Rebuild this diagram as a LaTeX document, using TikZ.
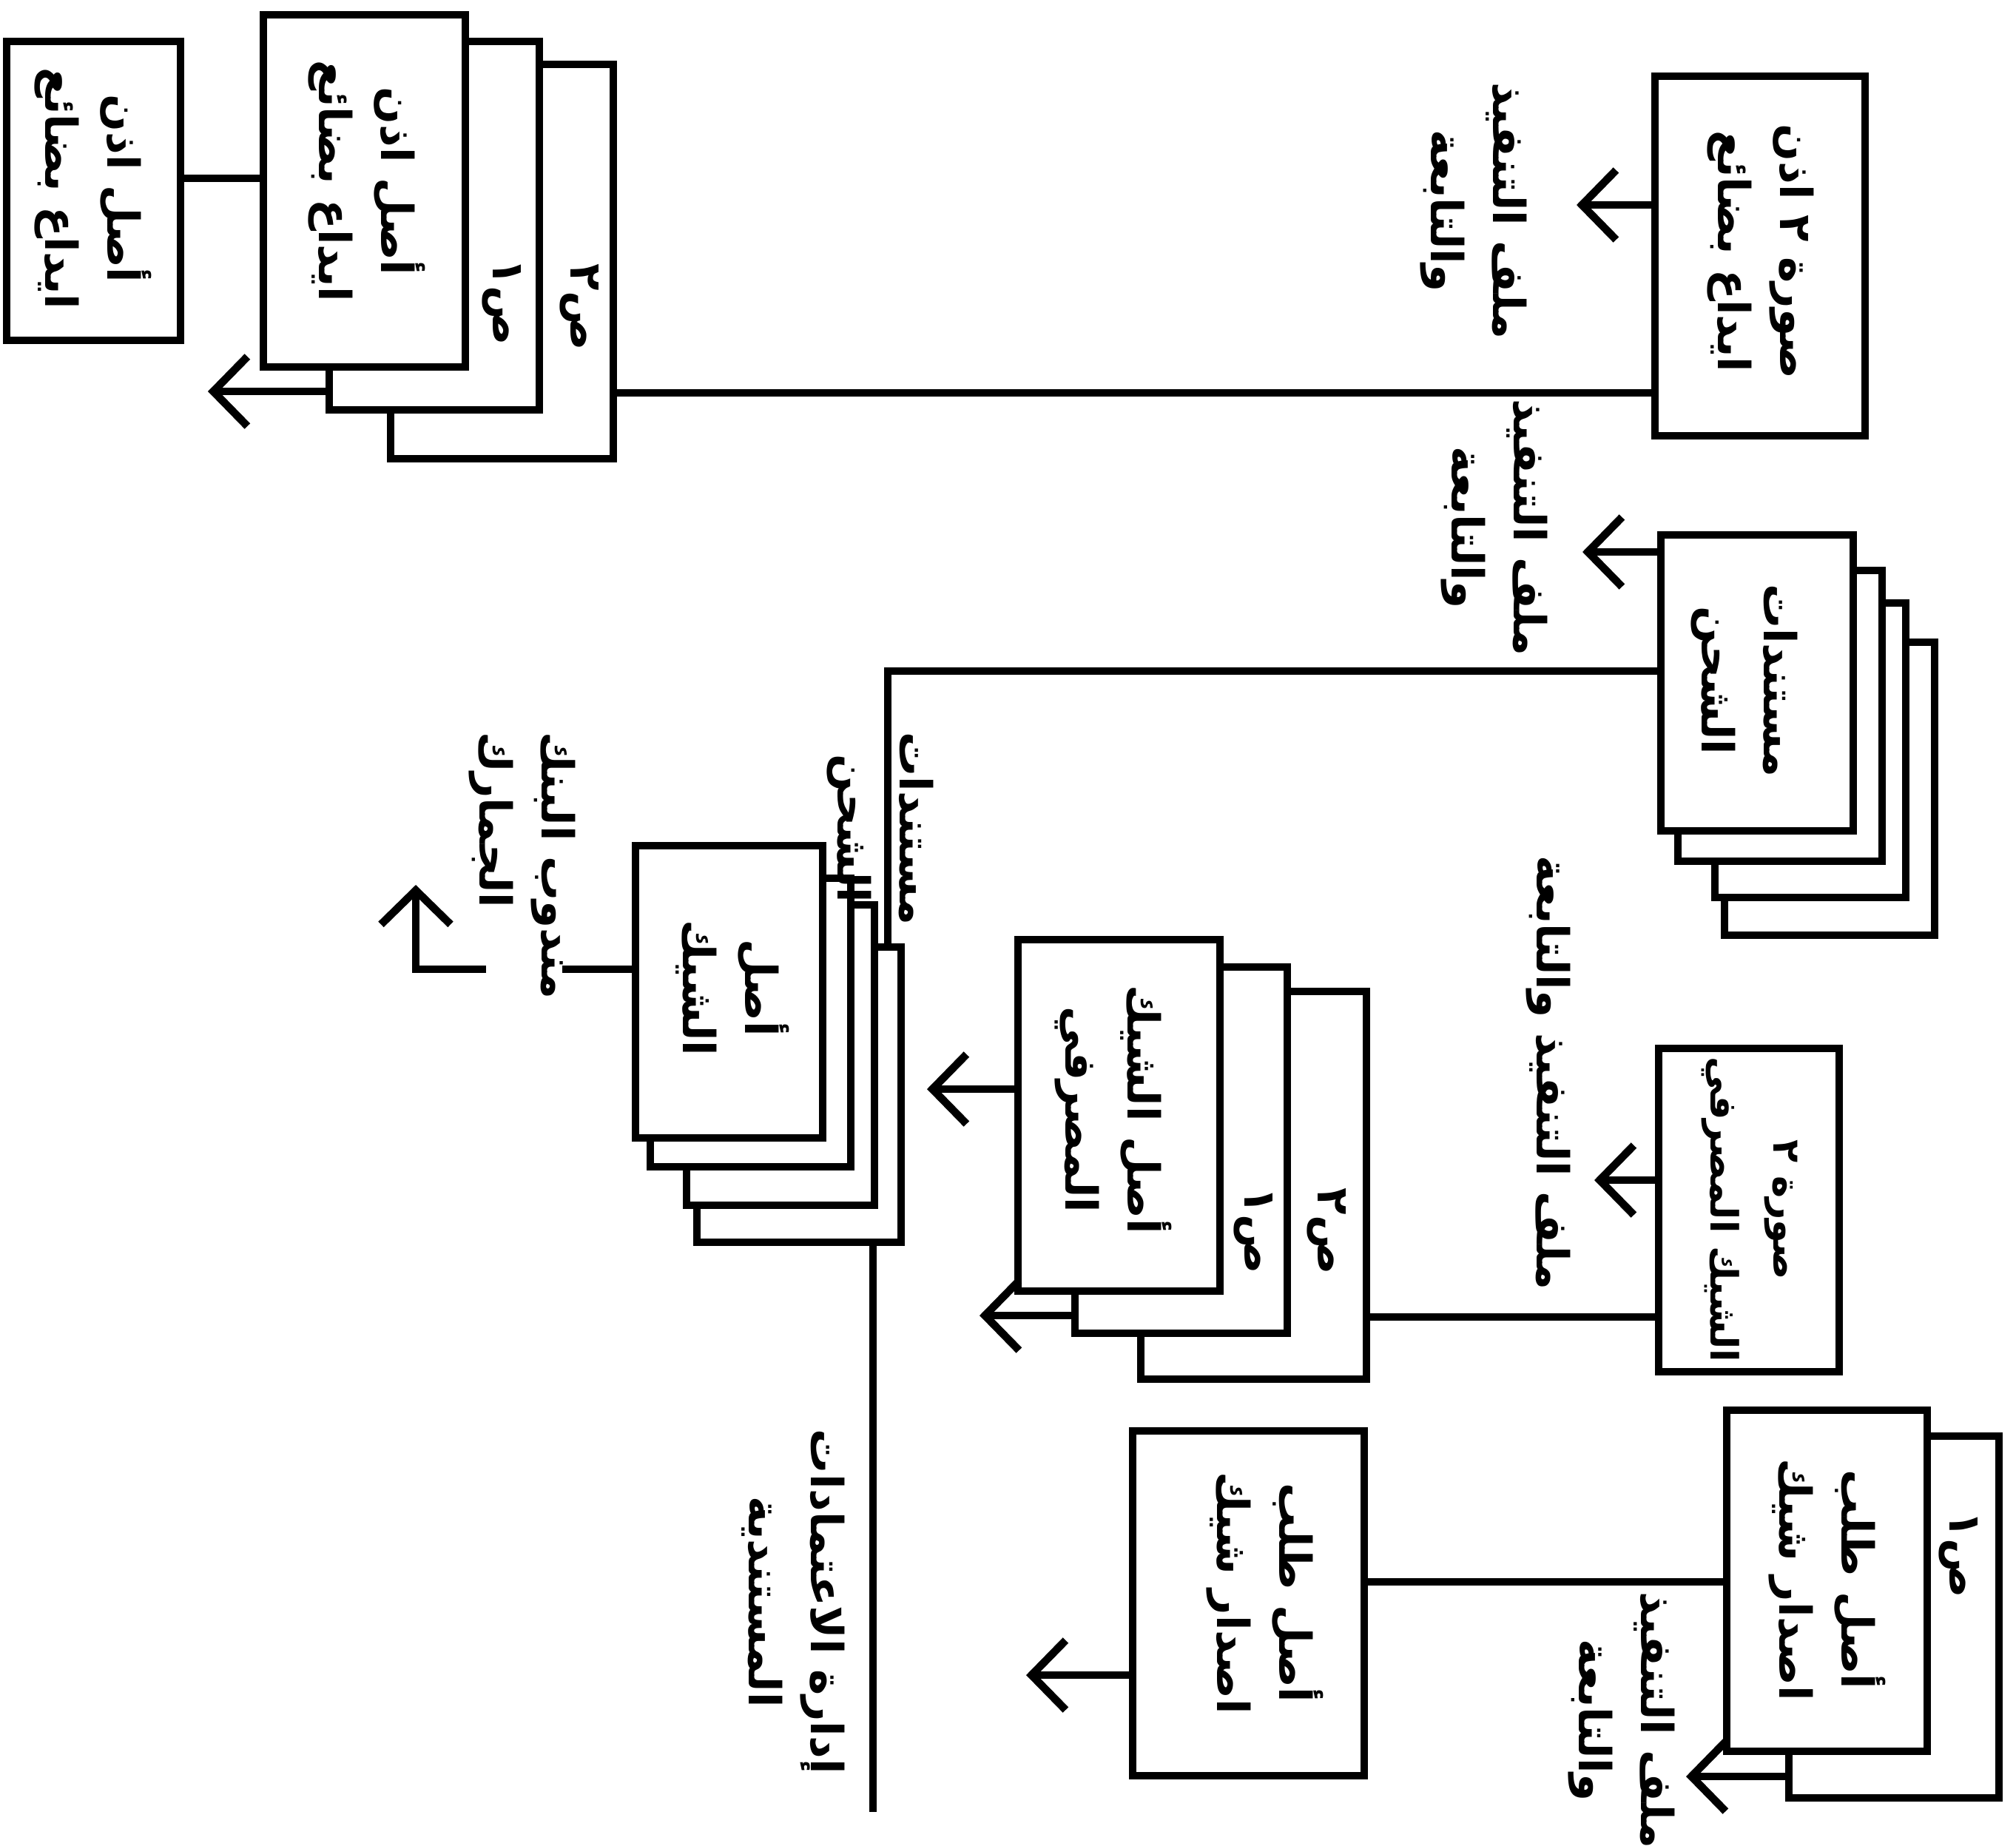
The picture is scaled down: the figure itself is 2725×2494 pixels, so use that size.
\documentclass[tikz,border=0pt]{standalone}
\usepackage{fontspec}
\newfontfamily\arabicfont[Script=Arabic]{DejaVu Sans}
\TeXXeTstate=1
\usetikzlibrary{fit,arrows.meta}
\newcommand{\artxt}[1]{\beginR #1\endR}
\begin{document}
\begin{tikzpicture}[x=0.01cm,y=-0.01cm,
  box/.style={draw, line width=3pt, fill=white, inner sep=0pt, outer sep=0pt},
  con/.style={line width=3pt},
  arr/.style={line width=3pt, -{Straight Barb[length=4.6mm,width=9.4mm]}},
  txt/.style={rotate=-90, font=\arabicfont\bfseries\fontsize{17}{24}\selectfont, align=center, inner sep=0pt},
  txtl/.style={txt, align=left},
  txts/.style={txt, font=\arabicfont\bfseries\fontsize{14.5}{24}\selectfont}]
\useasboundingbox (0,0) rectangle (2725,2494);

% ---- A and stack B
\node[box, fit={(9,56) (244,460)}] (A) {};
\node[box, fit={(528,87) (829,620)}] (B3) {};
\node[box, fit={(445,56) (729,554)}] (B2) {};
\node[box, fit={(356,20) (629,496)}] (B1) {};
\node[txt] (tA) at (126,255) {\artxt{أصل اذن}\\\artxt{ايداع بضائع}};
\node[txt] (tB1) at (496,245) {\artxt{أصل اذن}\\\artxt{ايداع بضائع}};
\node[txt] (tB2) at (678,408) {\artxt{ص١}};
\node[txt] (tB3) at (783,415) {\artxt{ص٢}};

% ---- C
\node[box, fit={(2237,103) (2521,589)}] (C) {};
\node[txt] (tC) at (2380,340) {\artxt{صورة ٢ اذن}\\\artxt{ايداع بضائع}};
\node[txt] (lC) at (1992,285) {\artxt{ملف التنفيذ}\\\artxt{والتابعة}};

% ---- stack D
\node[box, fit={(2331,868) (2615,1264)}] (D4) {};
\node[box, fit={(2318,815) (2576,1213)}] (D3) {};
\node[box, fit={(2268,771) (2544,1164)}] (D2) {};
\node[box, fit={(2245,723) (2505,1123)}] (D1) {};
\node[txt] (tD1) at (2358,920) {\artxt{مستندات}\\\artxt{الشحن}};
\node[txt] (lD) at (2020,713) {\artxt{ملف التنفيذ}\\\artxt{والتابعة}};

% ---- stack E
\node[box, fit={(942,1280) (1218,1679)}] (E4) {};
\node[box, fit={(928,1223) (1182,1629)}] (E3) {};
\node[box, fit={(879,1187) (1150,1577)}] (E2) {};
\node[box, fit={(859,1143) (1112,1538)}] (E1) {};
\node[txt] (tE1) at (990,1335) {\artxt{أصل}\\\artxt{الشيك}};
\node[txt] (lEdoc) at (1190,1120) {\artxt{مستندات}\\\artxt{الشحن}};
\node[txtl] (lMan) at (706,1170) {\artxt{مندوب البنك}\\\artxt{الجمارك}};
\node[txt] (lAdm) at (1072,2165) {\artxt{إدارة الاعتمادات}\\\artxt{المستندية}};

% ---- F
\node[box, fit={(2242,1417) (2486,1854)}] (F) {};
\node[txts] (tF) at (2365,1635) {\artxt{صورة ٢}\\\artxt{الشيك المصرفي}};
\node[txt] (lF) at (2093,1450) {\artxt{ملف التنفيذ والتابعة}};

% ---- stack G
\node[box, fit={(1542,1340) (1847,1864)}] (G3) {};
\node[box, fit={(1453,1307) (1740,1802)}] (G2) {};
\node[box, fit={(1376,1270) (1649,1745)}] (G1) {};
\node[txt] (tG1) at (1505,1500) {\artxt{أصل الشيك}\\\artxt{المصرفي}};
\node[txt] (tG2) at (1694,1663) {\artxt{ص١}};
\node[txt] (tG3) at (1793,1664) {\artxt{ص٢}};

% ---- stack H and box I
\node[box, fit={(2418,1941) (2702,2430)}] (H2) {};
\node[box, fit={(2334,1906) (2605,2367)}] (H1) {};
\node[txt] (tH1) at (2470,2135) {\artxt{أصل طلب}\\\artxt{اصدار شيك}};
\node[txt] (tH2) at (2647,2101) {\artxt{ص١}};
\node[txt] (lH) at (2192,2325) {\artxt{ملف التنفيذ}\\\artxt{والتابعة}};
\node[box, fit={(1531,1934) (1844,2400)}] (I) {};
\node[txt] (tI) at (1710,2153) {\artxt{أصل طلب}\\\artxt{اصدار شيك}};

% ---- free ends
\coordinate (eB) at (281,529);
\coordinate (eC) at (2131,277);
\coordinate (eD) at (2139,746);
\coordinate (eF) at (2155,1595);
\coordinate (eG1) at (1253,1472);
\coordinate (eG2) at (1324,1778);
\coordinate (eH) at (2279,2401);
\coordinate (eI) at (1387,2264);
\coordinate (eMan) at (760,1310);
\coordinate (cornA) at (657,1310);
\coordinate (cornB) at (562,1310);
\coordinate (cornTip) at (562,1196);
\coordinate (eBottom) at (1180,2449);

% ---- connectors
\draw[con] (A.east |- 0,241) -- (B1.west |- 0,241);
\draw[arr] (B2.west |- 0,529) -- (eB);
\draw[con] (B3.east |- 0,531) -- (C.west |- 0,531);
\draw[arr] (C.west |- 0,277) -- (eC);
\draw[arr] (D1.west |- 0,746) -- (eD);
\draw[con] (D1.west |- 0,907) -| (1200,0 |- E4.north);
\draw[con] (1180,0 |- E4.south) -- (eBottom);
\draw[con] (E1.west |- 0,1310) -- (eMan);
\draw[arr] (cornA) -- (cornB) -- (cornTip);
\draw[arr] (F.west |- 0,1595) -- (eF);
\draw[con] (F.west |- 0,1780) -- (G3.east |- 0,1780);
\draw[arr] (G1.west |- 0,1472) -- (eG1);
\draw[arr] (G2.west |- 0,1778) -- (eG2);
\draw[con] (H1.west |- 0,2138) -- (I.east |- 0,2138);
\draw[arr] (H2.west |- 0,2401) -- (eH);
\draw[arr] (I.west |- 0,2264) -- (eI);
\end{tikzpicture}
\end{document}
